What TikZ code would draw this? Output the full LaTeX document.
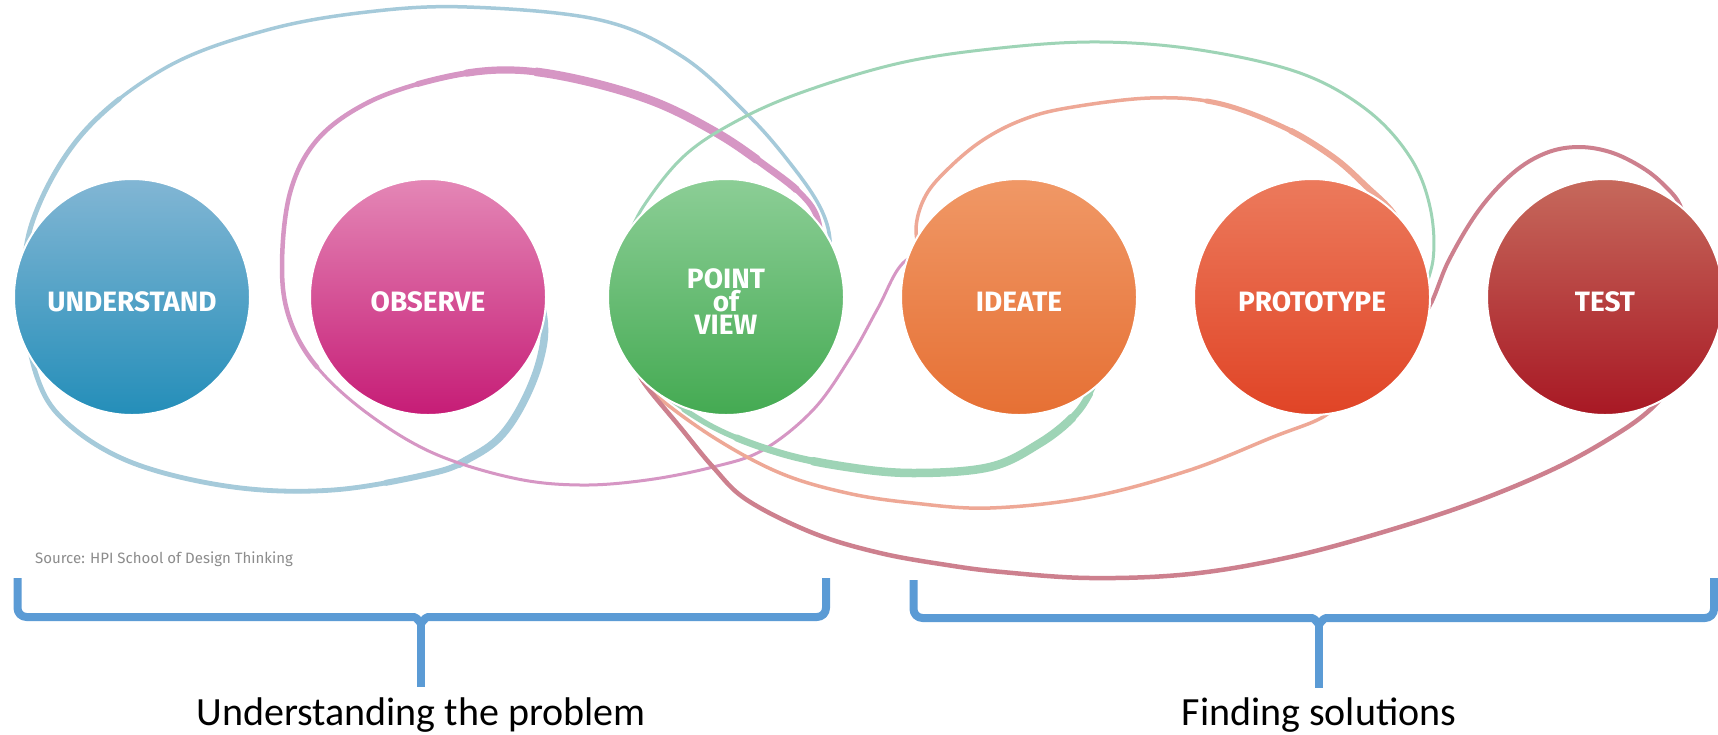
\documentclass[tikz,border=0pt]{standalone}
\usepackage{fontspec}
\setmainfont{Carlito}
\newfontfamily\circfont{Fira Sans}
\usetikzlibrary{calc,backgrounds}
\pgfdeclarelayer{paper}
\pgfsetlayers{paper,background,main}
\definecolor{cBlueT}{RGB}{130,182,212}
\definecolor{cBlueB}{RGB}{36,142,185}
\definecolor{cPinkT}{RGB}{228,135,182}
\definecolor{cPinkB}{RGB}{198,28,118}
\definecolor{cGreenT}{RGB}{140,206,150}
\definecolor{cGreenB}{RGB}{68,170,82}
\definecolor{cIdeT}{RGB}{240,152,102}
\definecolor{cIdeB}{RGB}{230,112,52}
\definecolor{cProT}{RGB}{236,122,92}
\definecolor{cProB}{RGB}{224,68,38}
\definecolor{cTstT}{RGB}{198,105,92}
\definecolor{cTstB}{RGB}{168,24,36}
\definecolor{lBlue}{RGB}{165,202,218}
\definecolor{lPink}{RGB}{214,150,196}
\definecolor{lGreen}{RGB}{158,212,182}
\definecolor{lSalmon}{RGB}{238,168,150}
\definecolor{lRed}{RGB}{205,128,142}
\definecolor{brace}{RGB}{91,155,213}
\tikzset{
  stage/.style={circle, minimum size=236pt, inner sep=0pt, draw=white, line width=2pt},
  stagetext/.style={text=white, align=center, inner sep=0pt,
    font=\circfont\bfseries\fontsize{28}{23}\selectfont},
  loop/.style={smooth, tension=0.6},
  curve/.style={line cap=round, line join=round},
  thickpart/.code 2 args={%
    \pgfmathsetmacro\tpLen{#2-#1}\pgfmathsetmacro\tpPhase{10000+#2-2*#1}%
    \edef\tpDo{\noexpand\tikzset{dash pattern=on \tpLen pt off 10000pt, dash phase=\tpPhase pt}}\tpDo},
  bracebar/.style={draw=brace, line width=8pt, line join=round},
  label/.style={font=\fontsize{40}{44}\selectfont, anchor=base, inner sep=0pt}
}
\newcommand\curveBlue[1]{\draw[curve,#1] plot[loop] coordinates {(bA) (544,320) (540,360) (523,403) (500,437) (470,458) (433,473) (333,490) (233,487) (133,463) (67,423) (37,377) (24,300) (33,220) (83,133) (167,67) (267,30) (367,12) (467,7) (600,20) (683,57) (750,117) (793,167) (820,207) (830,240) (bB)};}
\newcommand\curvePink[1]{\draw[curve,#1] plot[loop] coordinates {(pA) (817,217) (800,193) (767,167) (717,133) (650,100) (567,77) (500,70) (433,80) (367,103) (317,140) (290,193) (282,267) (290,320) (317,367) (367,413) (433,453) (513,478) (580,485) (647,480) (713,467) (763,450) (813,410) (850,358) (878,308) (903,263) (pB)};}
\newcommand\curveGreenUp[1]{\draw[curve,#1] plot[loop] coordinates {(gA) (643,207) (683,157) (733,123) (800,93) (900,63) (1000,48) (1100,42) (1200,50) (1300,73) (1367,110) (1410,157) (1430,207) (1433,260) (gB)};}
\newcommand\curveGreenLow[1]{\draw[curve,#1] plot[loop] coordinates {(gC) (653,387) (713,427) (780,453) (847,467) (913,473) (990,467) (1040,443) (1073,417) (1090,393) (gD)};}
\newcommand\curveSalUp[1]{\draw[curve,#1] plot[loop] coordinates {(sA) (916,228) (926,195) (950,167) (983,140) (1022,120) (1067,108) (1150,98) (1217,103) (1283,127) (1333,157) (1367,187) (1393,213) (sB)};}
\newcommand\curveSalLow[1]{\draw[curve,#1] plot[loop] coordinates {(sC) (653,393) (713,437) (780,473) (847,493) (913,503) (990,508) (1090,497) (1190,470) (1273,437) (1323,417) (sD)};}
\newcommand\curveRedUp[1]{\draw[curve,#1] plot[loop] coordinates {(rA) (1429,307) (1449,260) (1479,210) (1513,173) (1546,153) (1579,147) (1613,153) (1646,170) (1669,190) (1680,205) (rB)};}
\newcommand\curveRedLow[1]{\draw[curve,#1] plot[loop] coordinates {(rC) (647,387) (680,427) (713,467) (747,500) (813,533) (880,553) (947,565) (1002,572) (1090,578) (1190,574) (1290,557) (1390,530) (1480,500) (1560,466) (1620,432) (1653,407) (rD)};}
\begin{document}
\begin{tikzpicture}[x=1pt,y=-1pt]
\useasboundingbox (0,0) rectangle (1718,734);
\begin{pgfonlayer}{paper}
\fill[white] (0,0) rectangle (1718,734);
\end{pgfonlayer}
% stages
\node[stage, top color=cBlueT, bottom color=cBlueB] (und) at (132,297) {};
\node[stage, top color=cPinkT, bottom color=cPinkB] (obs) at (428,297) {};
\node[stage, top color=cGreenT, bottom color=cGreenB] (pov) at (726,297) {};
\node[stage, top color=cIdeT, bottom color=cIdeB] (ide) at (1019,297) {};
\node[stage, top color=cProT, bottom color=cProB] (pro) at (1312,297) {};
\node[stage, top color=cTstT, bottom color=cTstB] (tst) at (1605,297) {};
\node[stagetext] (undt) at ($(und.center)+(0,5)$) {UNDERSTAND};
\node[stagetext] (obst) at ($(obs.center)+(0,5)$) {OBSERVE};
\node[stagetext] (povt) at ($(pov.center)+(0,5)$) {POINT\\of\\VIEW};
\node[stagetext] (idet) at ($(ide.center)+(0,5)$) {IDEATE};
\node[stagetext] (prot) at ($(pro.center)+(0,5)$) {PROTOTYPE};
\node[stagetext] (tstt) at ($(tst.center)+(0,5)$) {TEST};
% hidden loop ends (inside the stages)
\coordinate (bA) at ($(obs.center)+(102,-32)$);
\coordinate (bB) at ($(pov.center)+(100,-25)$);
\coordinate (pA) at ($(pov.center)+(96,-45)$);
\coordinate (pB) at ($(ide.center)+(-79,-52)$);
\coordinate (gA) at ($(pov.center)+(-101,-52)$);
\coordinate (gB) at ($(pro.center)+(106,8)$);
\coordinate (gC) at ($(pov.center)+(-86,73)$);
\coordinate (gD) at ($(ide.center)+(81,71)$);
\coordinate (sA) at ($(ide.center)+(-97,-35)$);
\coordinate (sB) at ($(pro.center)+(93,-57)$);
\coordinate (sC) at ($(pov.center)+(-88,75)$);
\coordinate (sD) at ($(pro.center)+(33,98)$);
\coordinate (rA) at ($(pro.center)+(93,38)$);
\coordinate (rB) at ($(tst.center)+(80,-72)$);
\coordinate (rC) at ($(pov.center)+(-90,71)$);
\coordinate (rD) at ($(tst.center)+(70,83)$);
\begin{pgfonlayer}{background}
% blue loop
\curveBlue{lBlue, line width=3.5pt}
\curveBlue{lBlue, line width=4.8pt, thickpart={0}{1010}}
\curveBlue{lBlue, line width=6pt, thickpart={0}{310}}
\curveBlue{lBlue, line width=7.5pt, thickpart={45}{235}}
% pink loop
\curvePink{lPink, line width=3pt}
\curvePink{lPink, line width=4.5pt, thickpart={0}{840}}
\curvePink{lPink, line width=5.8pt, thickpart={25}{480}}
\curvePink{lPink, line width=7.2pt, thickpart={70}{430}}
\curvePink{lPink, line width=8.6pt, thickpart={120}{360}}
% green loop
\curveGreenUp{lGreen, line width=3pt}
\curveGreenLow{lGreen, line width=3.5pt}
\curveGreenLow{lGreen, line width=5.5pt, thickpart={60}{525}}
\curveGreenLow{lGreen, line width=7pt, thickpart={120}{505}}
\curveGreenLow{lGreen, line width=8.5pt, thickpart={200}{475}}
% salmon loop
\curveSalUp{lSalmon, line width=3.5pt}
\curveSalUp{lSalmon, line width=5pt, thickpart={380}{640}}
\curveSalUp{lSalmon, line width=6pt, thickpart={470}{640}}
\curveSalLow{lSalmon, line width=3.5pt}
% dark red loop
\curveRedUp{lRed, line width=4pt}
\curveRedLow{lRed, line width=4.5pt}
\end{pgfonlayer}
% source
\node[anchor=base west, inner sep=0pt, text=black!45, font=\circfont\fontsize{15}{17}\selectfont] (src) at (35,563) {Source: HPI School of Design Thinking};
% braces
\coordinate (L1) at (17.5,578); \coordinate (L2) at (826,578); \coordinate (Lm) at (421,617); \coordinate (Ls) at (421,687);
\coordinate (R1) at (913.5,580); \coordinate (R2) at (1714,578); \coordinate (Rm) at (1319,618); \coordinate (Rs) at (1319,688);
\draw[bracebar] (L1) -- ($(L1|-Lm)+(0,-9)$) to[out=-90,in=180] ($(L1|-Lm)+(9,0)$) -- ($(Lm)+(-7,0)$) to[out=0,in=-90] ($(Lm)+(0,5)$) to[out=-90,in=180] ($(Lm)+(7,0)$) -- ($(L2|-Lm)+(-9,0)$) to[out=0,in=-90] ($(L2|-Lm)+(0,-9)$) -- (L2);
\draw[bracebar] (Lm) -- (Ls);
\draw[bracebar] (R1) -- ($(R1|-Rm)+(0,-9)$) to[out=-90,in=180] ($(R1|-Rm)+(9,0)$) -- ($(Rm)+(-7,0)$) to[out=0,in=-90] ($(Rm)+(0,5)$) to[out=-90,in=180] ($(Rm)+(7,0)$) -- ($(R2|-Rm)+(-9,0)$) to[out=0,in=-90] ($(R2|-Rm)+(0,-9)$) -- (R2);
\draw[bracebar] (Rm) -- (Rs);
% labels
\node[label] (lab1) at (421,725) {Understanding the problem};
\node[label] (lab2) at (1319,725) {Finding solutions};
\end{tikzpicture}
\end{document}
